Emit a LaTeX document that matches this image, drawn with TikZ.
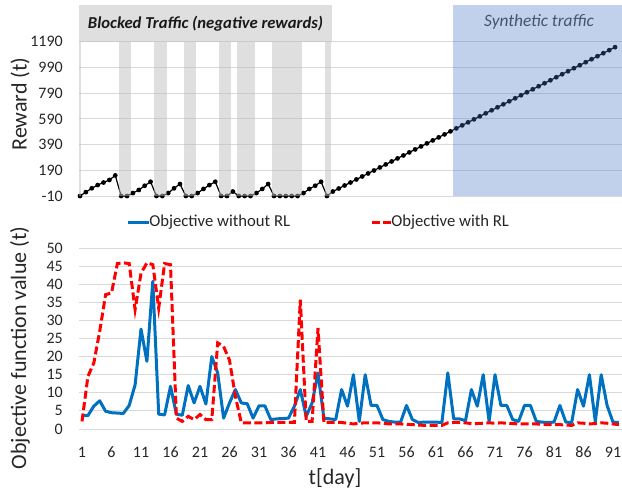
\documentclass[tikz,border=0pt]{standalone}
\usepackage{fontspec}
\setmainfont{Carlito}
\usepackage{xcolor}
\usepackage{tikz}
\usetikzlibrary{calc}
\definecolor{norlblue}{RGB}{0,112,192}
\definecolor{rlred}{RGB}{255,0,0}
\definecolor{gridgray}{RGB}{217,217,217}
\definecolor{blockgray}{RGB}{191,191,191}
\definecolor{synthblue}{RGB}{68,114,196}
\definecolor{slatetext}{RGB}{68,84,106}
\tikzset{
    gridline/.style={
        draw=gridgray,
        line width=0.75pt
    },
    ticklabel/.style={
        font=\fontsize{12}{14}\selectfont,
        text=black!85,
        inner sep=0pt
    },
    axistitle/.style={
        font=\fontsize{16.5}{20}\selectfont,
        text=black!85,
        inner sep=0pt
    },
    legendtext/.style={
        font=\fontsize{12.5}{15}\selectfont,
        text=black!85,
        inner sep=0pt,
        anchor=west
    },
    blocked/.style={
        fill=blockgray,
        fill opacity=0.5
    },
    synthetic/.style={
        fill=synthblue,
        fill opacity=0.33
    },
    rewardline/.style={
        draw=black,
        line width=0.9pt
    },
    rewarddot/.style={
        fill=black
    },
    norl/.style={
        draw=norlblue,
        line width=2.25pt,
        line join=round
    },
    withrl/.style={
        draw=rlred,
        line width=2.25pt,
        dash pattern=on 6pt off 2.6pt
    }
}

\begin{document}
\begin{tikzpicture}[x=0.75pt, y=-0.75pt,
    declare function={
        dx(\d)=80+(\d-1)*5.88;
        ry(\r)=196-(\r+10)*0.1285;
        bx(\d)=82+(\d-1)*5.9;
        oy(\v)=429-3.62*\v;
    }]
\useasboundingbox (0,0) rectangle (622,493);

% Reward chart: grid and tick labels
\foreach \r [count=\i] in {-10,190,...,1190} {
    \draw[gridline] (79,{ry(\r)}) -- (622,{ry(\r)});
    \node[ticklabel, anchor=east] (rt\i) at (63,{ry(\r)}) {\r};
}
\node[axistitle, rotate=90] (rewardtitle) at (20,104) {Reward (t)};

% Reward per day
\draw[rewardline] ({dx(1)},{ry(-10)})
    \foreach \r [count=\d from 2] in {20,50,75,95,115,150,-10,-10,13,37,70,101,-10,-10,13,50,83,-10,-10,13,45,75,101,-10,-10,25,-10,-10,-10,13,45,83,-10,-10,-10,-10,-10,13,45,70,101,-10} {-- ({dx(\d)},{ry(\r)})}
    \foreach \d in {44,...,92} {-- ({dx(\d)},{ry(25+23.4*(\d-44))})};
\foreach \r [count=\d] in {-10,20,50,75,95,115,150,-10,-10,13,37,70,101,-10,-10,13,50,83,-10,-10,13,45,75,101,-10,-10,25,-10,-10,-10,13,45,83,-10,-10,-10,-10,-10,13,45,70,101,-10}
    \fill[rewarddot] ({dx(\d)},{ry(\r)}) circle[radius=2.4];
\foreach \d in {44,...,92}
    \fill[rewarddot] ({dx(\d)},{ry(25+23.4*(\d-44))}) circle[radius=2.4];

% Blocked days
\fill[blocked] (79,5) rectangle (332,{ry(1190)});
\fill[blocked] (79,{ry(1190)}) rectangle (81,{ry(-10)});
\foreach \a/\b in {8/9,14/15,19/20,25/26,28/30,34/38,43/43}
    \fill[blocked] ({dx(\a)-2},{ry(1190)}) rectangle ({dx(\b)+4.4},{ry(-10)});
\node[font=\fontsize{12.5}{15}\selectfont\bfseries\itshape, text=black!90] (blockedlabel) at (205.5,23.5) {Blocked Traffic (negative rewards)};

% Synthetic days
\fill[synthetic] (453,5) rectangle (622,{ry(-10)});
\node[font=\fontsize{13}{15}\selectfont\itshape, text=slatetext] (synthlabel) at (539,22) {Synthetic traffic};

% Objective chart: grid and tick labels
\foreach \v [count=\i] in {0,5,...,50} {
    \draw[gridline] (79,{oy(\v)}) -- (622,{oy(\v)});
    \node[ticklabel, anchor=east] (ot\i) at (63,{oy(\v)}) {\v};
}
\foreach \d [count=\i] in {1,6,...,91}
    \node[ticklabel] (dt\i) at ({bx(\d)},452) {\d};
\node[axistitle, rotate=90] (objtitle) at (20,348) {Objective function value (t)};
\node[axistitle] (daytitle) at (335,478) {t[day]};

% Objective without RL
\draw[norl] ({bx(1)},{oy(3.7)})
    \foreach \v [count=\d from 2] in {3.7,6.3,7.8,4.9,4.5,4.4,4.3,6.5,12.2,
        27.6,18.7,40.8,4.1,3.9,11.8,4.1,3.8,12,7.2,
        11.8,6.9,20,15.5,3,7.2,10.9,7.2,7,3,
        6.4,6.4,2.6,2.8,2.9,3,6.3,10.9,3.5,7.2,
        15.5,3,2.8,2.6,10.9,6.3,15,2.1,15,6.5,
        6.5,2.6,2.1,1.9,1.9,6.5,2.6,1.8,1.9,1.9,
        1.9,1.8,15.5,2.8,2.8,2.3,10.9,6.3,15,2.1,
        15,6.5,6.5,2.6,2.1,6.5,6.5,2.1,1.9,1.8,
        1.9,6.5,1.9,1.8,10.9,6.3,15,2.1,15,6.5,
        1.9,1.8} {-- ({bx(\d)},{oy(\v)})};

% Objective with RL
\draw[withrl] ({bx(1)},{oy(2.1)})
    \foreach \v [count=\d from 2] in {14.5,18.2,27,37.1,37.6,45.7,45.9,45.7,33,
        43,45.9,45.4,33.4,45.7,45.4,3,2.1,3.5,2.6,
        4,2.6,2.6,23.8,22.8,19,9,1.7,1.7,1.7,
        1.7,1.7,1.8,1.8,1.8,1.8,1.8,35.7,2.1,2.1,
        27.9,1.8,1.8,1.8,1.8,1.6,1.4,1.6,1.7,1.7,
        1.7,1.6,1.4,1.4,1.4,1.3,1.2,1.1,1.0,1.0,
        1.0,1.0,1.7,1.8,1.8,1.7,1.5,1.5,1.6,1.7,
        1.6,1.7,1.6,1.5,1.4,1.4,1.4,1.4,1.3,1.2,
        1.2,1.2,1.1,1.0,1.7,1.6,1.4,1.5,1.7,1.6,
        1.4,1.2} {-- ({bx(\d)},{oy(\v)})};

% Legend
\node[legendtext] (norlleg) at (149,222) {Objective without RL};
\draw[norl] (norlleg.west) -- ++(-21,0);
\node[legendtext] (rlleg) at (391,222) {Objective with RL};
\draw[withrl] (rlleg.west) -- ++(-22,0);

\end{tikzpicture}
\end{document}
